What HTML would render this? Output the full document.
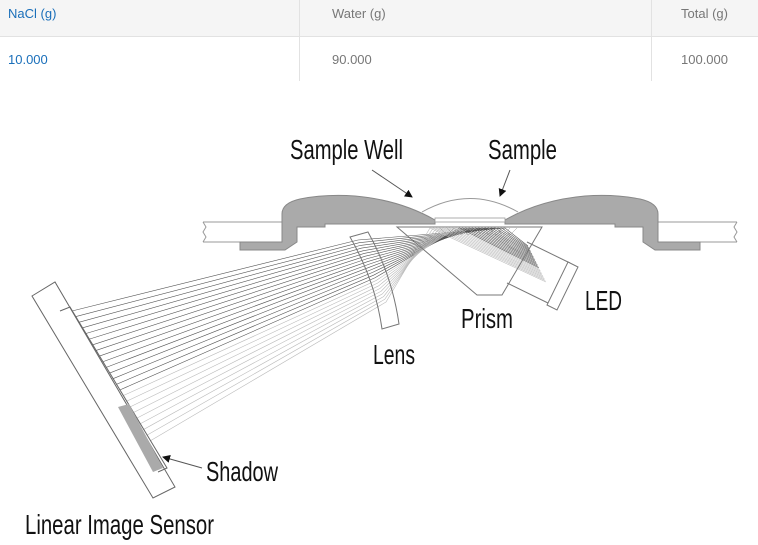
<!DOCTYPE html>
<html><head><meta charset="utf-8"><style>
html,body{margin:0;padding:0;background:#fff;width:758px;height:545px;overflow:hidden;font-family:"Liberation Sans",sans-serif}
.t{position:absolute;font-size:13px}
</style></head><body>
<div style="position:absolute;left:0;top:0;width:758px;height:36px;background:#f5f5f5;border-bottom:1px solid #e2e2e2"></div>
<div style="position:absolute;left:299px;top:0;width:1px;height:81px;background:#e2e2e2"></div>
<div style="position:absolute;left:651px;top:0;width:1px;height:81px;background:#e2e2e2"></div>
<div class="t" style="left:8px;top:6px;color:#1a6fba">NaCl (g)</div>
<div class="t" style="left:332px;top:6px;color:#777">Water (g)</div>
<div class="t" style="left:681px;top:6px;color:#777">Total (g)</div>
<div class="t" style="left:8px;top:52px;color:#1a6fba">10.000</div>
<div class="t" style="left:332px;top:52px;color:#777">90.000</div>
<div class="t" style="left:681px;top:52px;color:#777">100.000</div>
<svg id="s" width="758" height="545" style="position:absolute;left:0;top:0" xmlns="http://www.w3.org/2000/svg">
<defs><marker id="a" markerWidth="8" markerHeight="8" refX="7" refY="4" orient="auto" markerUnits="userSpaceOnUse"><path d="M0,0 L8,4 L0,8 Z" fill="#111"/></marker></defs>
<g id="rays"></g>
<path d="M203,222 H283 M203,242 H283 M203,222 l3,5 -3,5 3,5 -3,5" stroke="#999" fill="none"/>
<path d="M657,222 H737 M657,242 H737 M737,222 l-3,5 3,5 -3,5 3,5" stroke="#999" fill="none"/>
<path id="lh" d="M240,242 H282 V214 Q282,203 300,199 Q325,194 355,196 Q400,200 435,220 V224 H325 V227 H297 V242 L285,250 H240 Z" fill="#aaa" stroke="#888" stroke-width="1"/>
<use href="#lh" transform="translate(940,0) scale(-1,1)"/>
<path d="M422,212 Q470,185 518,212" stroke="#999" fill="none"/>
<rect x="435" y="218" width="70" height="4" fill="#fff" stroke="#999" stroke-width="0.8"/>
<path d="M397,227 H542 L502,295 H477 Z" fill="none" stroke="#777" stroke-width="1"/>
<path d="M527,242 L570,263 M507,283 L550,304" stroke="#777" fill="none"/>
<path d="M568,262 L578,267 L557,310 L547,305 Z" fill="#fff" stroke="#777"/>
<path d="M350,237 L368,232 Q392,275 399,324 L382,329 Q375,280 350,237 Z" fill="none" stroke="#777"/>
<path d="M32,296 L55,282 L175,487 L153,498 Z" fill="none" stroke="#666"/>
<path d="M60,311 L70,307 L167,468 L158,472" fill="none" stroke="#666"/>
<path d="M118,407 L129,404 L163,468 L153,472 Z" fill="#aaa"/>
<line x1="372" y1="170" x2="412" y2="197" stroke="#555" marker-end="url(#a)"/>
<line x1="510" y1="170" x2="500" y2="196" stroke="#555" marker-end="url(#a)"/>
<line x1="202" y1="468" x2="163" y2="457" stroke="#555" marker-end="url(#a)"/>
<g font-family="'Liberation Sans Narrow','Liberation Sans',sans-serif" fill="#111" font-size="28">
<text x="290" y="159" textLength="113" lengthAdjust="spacingAndGlyphs">Sample Well</text>
<text x="488" y="159" textLength="69" lengthAdjust="spacingAndGlyphs">Sample</text>
<text x="461" y="328" textLength="52" lengthAdjust="spacingAndGlyphs">Prism</text>
<text x="585" y="310" textLength="37" lengthAdjust="spacingAndGlyphs">LED</text>
<text x="373" y="364" textLength="42" lengthAdjust="spacingAndGlyphs">Lens</text>
<text x="206" y="481" textLength="72" lengthAdjust="spacingAndGlyphs">Shadow</text>
<text x="25" y="534" textLength="189" lengthAdjust="spacingAndGlyphs">Linear Image Sensor</text>
</g>
</svg>
<script>
var g=document.getElementById('rays'),h='',N=24;
for(var i=0;i<N;i++){var t=i/(N-1);
var px=72+78*t,py=311+130*t;
var lx=358+28*t,ly=240+62*t;
var qx=505-75*t,qy=228;
var ex=528+18*t,ey=246+36*t;
var c=t<0.62?'#555':'#bbb';
h+='<polyline points="'+px+','+py+' '+lx+','+ly+' '+qx+','+qy+' '+ex+','+ey+'" fill="none" stroke="'+c+'" stroke-width="0.6"/>';}
for(var j=0;j<10;j++){var x=440+j*7;h+='<path d="M'+x+',228 l7,7 l7,-7" fill="none" stroke="#999" stroke-width="0.5"/>';}
g.innerHTML=h;
</script>
</body></html>
